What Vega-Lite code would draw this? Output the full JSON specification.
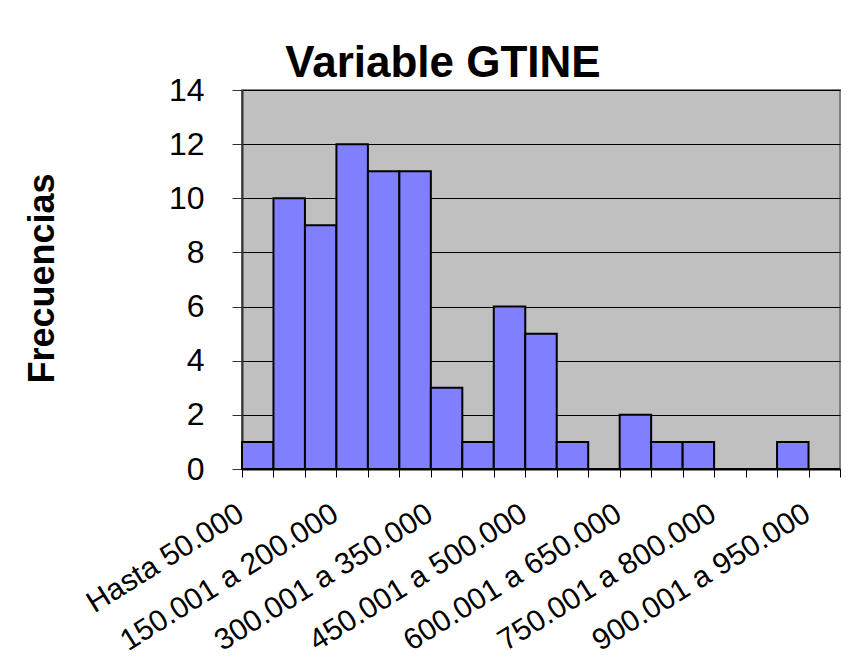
{
  "$schema": "https://vega.github.io/schema/vega-lite/v6.json",
  "width": 598,
  "height": 379,
  "autosize": "none",
  "padding": {"left": 242, "top": 90, "right": 20, "bottom": 188},
  "background": "white",
  "title": {
    "text": "Variable GTINE",
    "font": "Liberation Sans",
    "fontSize": 44,
    "fontWeight": "bold",
    "color": "black",
    "anchor": "middle",
    "frame": "group",
    "dx": -98,
    "offset": -12
  },
  "data": {
    "values": [
      {"rango": "Hasta 50.000", "frecuencia": 1},
      {"rango": "50.001 a 100.000", "frecuencia": 10},
      {"rango": "100.001 a 150.000", "frecuencia": 9},
      {"rango": "150.001 a 200.000", "frecuencia": 12},
      {"rango": "200.001 a 250.000", "frecuencia": 11},
      {"rango": "250.001 a 300.000", "frecuencia": 11},
      {"rango": "300.001 a 350.000", "frecuencia": 3},
      {"rango": "350.001 a 400.000", "frecuencia": 1},
      {"rango": "400.001 a 450.000", "frecuencia": 6},
      {"rango": "450.001 a 500.000", "frecuencia": 5},
      {"rango": "500.001 a 550.000", "frecuencia": 1},
      {"rango": "550.001 a 600.000", "frecuencia": 0},
      {"rango": "600.001 a 650.000", "frecuencia": 2},
      {"rango": "650.001 a 700.000", "frecuencia": 1},
      {"rango": "700.001 a 750.000", "frecuencia": 1},
      {"rango": "750.001 a 800.000", "frecuencia": 0},
      {"rango": "800.001 a 850.000", "frecuencia": 0},
      {"rango": "850.001 a 900.000", "frecuencia": 1},
      {"rango": "900.001 a 950.000", "frecuencia": 0}
    ]
  },
  "mark": {"type": "bar", "color": "#8080FF", "stroke": "black", "strokeWidth": 2},
  "encoding": {
    "x": {
      "field": "rango",
      "type": "ordinal",
      "sort": null,
      "scale": {"paddingInner": 0, "paddingOuter": 0},
      "axis": {
        "title": null,
        "tickBand": "extent",
        "labelOffset": -25,
        "labelAngle": -32,
        "labelAlign": "right",
        "labelBaseline": "top",
        "labelPadding": 21,
        "labelLimit": 0,
        "tickSize": 8,
        "tickColor": "black",
        "domainColor": "black",
        "domainWidth": 2,
        "labelFont": "Liberation Sans",
        "labelFontSize": 30,
        "labelColor": "black",
        "labelOverlap": false,
        "labelExpr": "round(datum.index * 18) % 3 == 0 ? datum.label : ''",
        "grid": false
      }
    },
    "y": {
      "field": "frecuencia",
      "type": "quantitative",
      "scale": {"domain": [0, 14], "nice": false},
      "axis": {
        "title": "Frecuencias",
        "values": [0, 2, 4, 6, 8, 10, 12, 14],
        "grid": true,
        "gridColor": "black",
        "gridWidth": 1,
        "tickSize": 10,
        "tickColor": "#333333",
        "domainColor": "#333333",
        "domainWidth": 2,
        "labelFont": "Liberation Sans",
        "labelFontSize": 32,
        "labelColor": "black",
        "labelPadding": 28,
        "labelBaseline": "middle",
        "titleFont": "Liberation Sans",
        "titleFontSize": 36,
        "titleFontWeight": "bold",
        "titleColor": "black",
        "titleX": -200,
        "titleY": 188,
        "titleAngle": -90,
        "titleAlign": "center",
        "titleBaseline": "middle"
      }
    }
  },
  "config": {"view": {"fill": "#C0C0C0", "stroke": "#808080", "strokeWidth": 2}}
}
